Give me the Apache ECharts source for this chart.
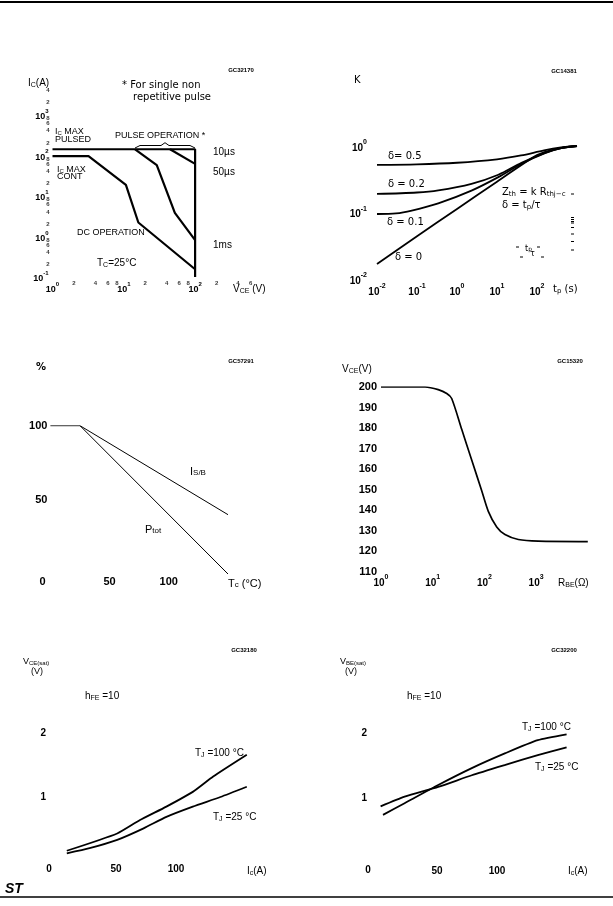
<!DOCTYPE html>
<html><head><meta charset="utf-8">
<script src="https://cdn.jsdelivr.net/npm/echarts@6/dist/echarts.min.js"></script>
<style>html,body{margin:0;padding:0;background:#fff}#c{width:613px;height:906px}</style>
</head><body><div id="c"></div><script>
// ---------- data ----------
// Chart 1: safe operating areas (Vce [V], Ic [A])
const soaPulsed = [[1,140],[100,140],[100,0.1]];
const soaDC     = [[1,95],[3.2,95],[10.7,18.5],[16,2.2],[100,0.155]];
const soa1ms    = [[14.4,140],[29,57],[52,3.8],[100,0.81]];
const soa50us   = [[44.5,140],[100,61]];
const soaXMinor = [2,4,6,8,20,40,60,80,200,400,600];
const soaYMinor = [0.2,0.4,0.6,0.8,2,4,6,8,20,40,60,80,200,400,600,800,2000,4000];
// Chart 2: thermal impedance K vs tp [s]
const kD05 = [[0.01,0.52],[0.1,0.53],[1,0.56],[10,0.63],[40,0.72],[150,0.86],[400,0.95],[1000,1.0]];
const kD02 = [[0.01,0.19],[0.1,0.2],[0.34,0.215],[2.3,0.27],[10.8,0.37],[41,0.56],[158,0.79],[400,0.93],[1000,1.0]];
const kD01 = [[0.01,0.095],[0.03,0.097],[0.074,0.107],[0.34,0.137],[2.3,0.213],[10.8,0.34],[41,0.54],[158,0.78],[400,0.93],[1000,1.0]];
const kD0  = [[0.01,0.0168],[0.1,0.044],[1,0.113],[10,0.29],[100,0.73],[300,0.9],[1000,1.0]];
// Chart 3: derating (Tc [°C], %)
const deratePtot = [[0,100],[25,100],[150,0]];
const derateIsb  = [[25,100],[150,40]];
// Chart 4: Vce vs Rbe
const vceRbe = [[1,200],[7.1,200],[12.8,198.7],[18.7,196.8],[23.3,194.4],[36.4,179.4],[56.8,164.5],[88.7,149.5],[119,139.5],[173,131.9],[250,128.2],[453,125.8],[1104,125],[10000,124.8]];
// Chart 5: Vce(sat) vs Ic
const vcesat100 = [[9,0.16],[51,0.43],[70,0.64],[92,0.85],[114,1.08],[131,1.32],[159,1.66]];
const vcesat25  = [[9,0.12],[28,0.2],[51,0.33],[73,0.51],[92,0.69],[114,0.85],[137,1.0],[159,1.16]];
// Chart 6: Vbe(sat) vs Ic
const vbesat100 = [[5,0.74],[23,0.92],[51,1.2],[79,1.46],[107,1.69],[134,1.89],[158,1.98]];
const vbesat25  = [[3,0.87],[23,1.02],[51,1.17],[79,1.35],[107,1.51],[134,1.66],[158,1.78]];

// ---------- helpers ----------
const FN = 'Liberation Sans', FW = 'DejaVu Sans';
function richAxis(size, fam, weight){
  return {
    n:{fontSize:size, lineHeight:size+4, verticalAlign:'bottom', color:'#000', fontFamily:fam, fontWeight:weight||'normal'},
    s:{fontSize:Math.round(size*0.72), lineHeight:Math.round(size*0.72), verticalAlign:'top', color:'#000', fontFamily:fam, fontWeight:weight||'normal'}
  };
}
function logFmt(hideAbove){
  return function(v){
    const e = Math.round(Math.log10(v));
    if (hideAbove !== undefined && e >= hideAbove) return '';
    return '{n|10}{s|' + e + '}';
  };
}
function richG(size, fam, weight){
  const w = weight || 'normal';
  return {
    n:{fontSize:size, lineHeight:size+3, verticalAlign:'bottom', fill:'#000', fontFamily:fam, fontWeight:w},
    b:{fontSize:Math.round(size*0.72), lineHeight:Math.round(size*0.72), verticalAlign:'bottom', fill:'#000', fontFamily:fam, fontWeight:w},
    s:{fontSize:Math.round(size*0.72), lineHeight:Math.round(size*0.72), verticalAlign:'top', fill:'#000', fontFamily:fam, fontWeight:w}
  };
}
function T(x, y, text, size, fam, align, weight, extra){
  const st = {text:text, fill:'#000', fontSize:size, fontFamily:fam||FN, fontWeight:weight||'normal',
    align:align||'left', verticalAlign:'middle', rich:richG(size, fam||FN, weight)};
  if (extra) Object.assign(st, extra);
  return {type:'text', x:x, y:y, silent:true, style:st};
}
function L(x1,y1,x2,y2,w){ return {type:'line', silent:true, shape:{x1:x1,y1:y1,x2:x2,y2:y2}, style:{stroke:'#000', lineWidth:w||1}}; }
const hidden = {axisLine:{show:false}, axisTick:{show:false}, splitLine:{show:false}, minorTick:{show:false}, minorSplitLine:{show:false}};
function ax(o){ return Object.assign({}, hidden, o); }
function line(data, xi, w, smooth){
  return {type:'line', data:data, xAxisIndex:xi, yAxisIndex:xi, showSymbol:false, symbol:'none', smooth:smooth||false,
    lineStyle:{color:'#000', width:w}, silent:true, animation:false};
}
function lead(v){ const m = Math.pow(10, Math.floor(Math.log10(v)+1e-9)); return String(Math.round(v/m)); }
const only50100 = function(v){ return (v===50||v===100)? String(v):''; };
const noZero = function(v){ return v===0?'':String(v); };

const grids = [
  {left:52.5, top:74,    width:213.9, height:203},
  {left:377,  top:146,   width:200,   height:133},
  {left:50.4, top:425.7, width:177.6, height:148.3},
  {left:381,  top:387,   width:206.8, height:185},
  {left:56,   top:733,   width:192,   height:128},
  {left:377,  top:733,   width:192,   height:130}
];

const xAxes = [
  ax({gridIndex:0, type:'log', min:1, max:1000, axisLabel:{margin:4, formatter:logFmt(3), rich:richAxis(9,FN,'bold')}}),
  ax({gridIndex:1, type:'log', min:0.01, max:1000, axisLabel:{margin:4, formatter:logFmt(3), rich:richAxis(10,FN,'bold')}}),
  ax({gridIndex:2, type:'value', min:0, max:150, interval:50, axisLabel:{margin:2, fontSize:11, fontWeight:'bold', fontFamily:FN, color:'#000', formatter:only50100}}),
  ax({gridIndex:3, type:'log', min:1, max:10000, axisLabel:{margin:2, formatter:logFmt(4), rich:richAxis(10,FN,'bold')}}),
  ax({gridIndex:4, type:'value', min:0, max:160, interval:50, axisLabel:{margin:3, fontSize:10, fontWeight:'bold', fontFamily:FN, color:'#000', formatter:only50100}}),
  ax({gridIndex:5, type:'value', min:0, max:160, interval:50, axisLabel:{margin:3, fontSize:10, fontWeight:'bold', fontFamily:FN, color:'#000', formatter:only50100}})
];
const yAxes = [
  ax({gridIndex:0, type:'log', min:0.1, max:10000, axisLabel:{margin:4, formatter:logFmt(4), rich:richAxis(9,FN,'bold')}}),
  ax({gridIndex:1, type:'log', min:0.01, max:1, axisLabel:{margin:10, formatter:logFmt(), rich:richAxis(10,FN,'bold')}}),
  ax({gridIndex:2, type:'value', min:0, max:100, interval:50, axisLabel:{margin:3, fontSize:11, fontWeight:'bold', fontFamily:FN, color:'#000', formatter:noZero}}),
  ax({gridIndex:3, type:'value', min:110, max:200, interval:10, axisLabel:{margin:4, fontSize:11, fontWeight:'bold', fontFamily:FN, color:'#000'}}),
  ax({gridIndex:4, type:'value', min:0, max:2, interval:1, axisLabel:{margin:10, fontSize:10, fontWeight:'bold', fontFamily:FN, color:'#000', formatter:noZero}}),
  ax({gridIndex:5, type:'value', min:0, max:2, interval:1, axisLabel:{margin:10, fontSize:10, fontWeight:'bold', fontFamily:FN, color:'#000', formatter:noZero}})
];

const series = [
  line(soaPulsed,0,2.2), line(soaDC,0,2.2), line(soa1ms,0,2.2), line(soa50us,0,2.2),
  {type:'scatter', data:soaXMinor.map(v=>[v,0.1]), xAxisIndex:0, yAxisIndex:0, symbolSize:1, silent:true, clip:false,
    itemStyle:{color:'rgba(0,0,0,0)'},
    label:{show:true, position:'inside', offset:[0,6], fontSize:6, fontWeight:'bold', fontFamily:FN, color:'#000',
      formatter:function(p){ return lead(p.value[0]); }}},
  {type:'scatter', data:soaYMinor.map(v=>[1,v]), xAxisIndex:0, yAxisIndex:0, symbolSize:1, silent:true, clip:false,
    itemStyle:{color:'rgba(0,0,0,0)'},
    label:{show:true, position:'inside', offset:[-3,0], align:'right', fontSize:6, fontWeight:'bold', fontFamily:FN, color:'#000',
      formatter:function(p){ return lead(p.value[1]); }}},
  line(kD05,1,1.8,0.3), line(kD02,1,1.8,0.3), line(kD01,1,1.8,0.3), line(kD0,1,1.8,0.3),
  line(deratePtot,2,1), line(derateIsb,2,1),
  line(vceRbe,3,1.7,0.25),
  line(vcesat100,4,1.8,0.2), line(vcesat25,4,1.8,0.2),
  line(vbesat100,5,1.8,0.2), line(vbesat25,5,1.8,0.2)
];

const g = [
  L(0,2,613,2,2), L(0,897,613,897,1.5),
  T(5,889,'ST',14,FN,'left','bold',{fontStyle:'italic'}),
  // chart 1
  T(241,70,'GC32170',6,FN,'center','bold'),
  T(28,82,'{n|I}{b|C}{n|(A)}',10,FN),
  T(122,85,'* For single non',10,FW),
  T(133,97,'repetitive pulse',10,FW),
  T(55,130,'{n|I}{b|C}{n| MAX}',9,FN),
  T(55,140,'PULSED',9,FN),
  T(115,136,'PULSE OPERATION *',9,FN),
  {type:'polyline', silent:true, shape:{points:[[135,148],[140,145.5],[161,145.5],[165,142.7],[169,145.5],[190,145.5],[195,148]]}, style:{stroke:'#000', lineWidth:1, fill:null}},
  T(213,152,'10µs',10,FN),
  T(213,172,'50µs',10,FN),
  T(213,245,'1ms',10,FN),
  T(57,168,'{n|I}{b|C}{n| MAX}',9,FN),
  T(57,177,'CONT',9,FN),
  T(77,233,'DC OPERATION',9,FN),
  T(97,262,'{n|T}{b|C}{n|=25°C}',10,FN),
  T(233,288,'{n|V}{b|CE}{n| (V)}',10,FN),
  // chart 2
  T(354,80,'K',10,FW),
  T(564,71,'GC14381',6,FN,'center','bold'),
  T(388,156,'δ= 0.5',10,FW),
  T(388,184,'δ = 0.2',10,FW),
  T(387,222,'δ = 0.1',10,FW),
  T(395,257,'δ = 0',10,FW),
  T(502,191,'{n|Z}{b|th}{n| = k R}{b|thj−c}',10,FW),
  T(502,204,'{n|δ = t}{b|p}{n|/τ}',10,FW),
  T(553,288,'{n|t}{b|p}{n| (s)}',10,FW),
  L(571,194,574,194), L(571,217.5,574,217.5), L(571,219.5,574,219.5), L(571,221.5,574,221.5), L(571,223,574,223),
  L(571,227.5,574,227.5), L(571,234,574,234), L(571,241.5,574,241.5), L(571,250,574,250),
  L(516,247,519,247), T(525,247,'{n|t}{b|p}',8,FW), L(537,247,540,247),
  L(520,257,523,257), T(530,254,'τ',8,FW), L(541,257,544,257),
  // chart 3
  T(36,367,'%',10,FW,'left','bold'),
  T(241,361,'GC57291',6,FN,'center','bold'),
  T(190,470,'{n|I}{b|S/B}',11,FN),
  T(145,528,'{n|P}{b|tot}',11,FN),
  T(42.5,582,'0',11,FN,'center','bold'),
  T(228,582,'{n|T}{b|c}{n| (°C)}',11,FN),
  // chart 4
  T(342,368,'{n|V}{b|CE}{n|(V)}',10,FN),
  T(570,361,'GC15320',6,FN,'center','bold'),
  T(558,582,'{n|R}{b|BE}{n|(Ω)}',10,FN),
  // chart 5
  T(23,660,'{n|V}{b|CE(sat)}',9,FN),
  T(31,672,'(V)',9,FN),
  T(244,650,'GC32180',6,FN,'center','bold'),
  T(85,695,'{n|h}{b|FE}{n| =10}',10,FN),
  T(195,752,'{n|T}{b|J}{n| =100 °C}',10,FN),
  T(213,816,'{n|T}{b|J}{n| =25 °C}',10,FN),
  T(49,869,'0',10,FN,'center','bold'),
  T(247,870,'{n|I}{b|c}{n|(A)}',10,FN),
  // chart 6
  T(340,660,'{n|V}{b|BE(sat)}',9,FN),
  T(345,672,'(V)',9,FN),
  T(564,650,'GC32200',6,FN,'center','bold'),
  T(407,695,'{n|h}{b|FE}{n| =10}',10,FN),
  T(522,726,'{n|T}{b|J}{n| =100 °C}',10,FN),
  T(535,766,'{n|T}{b|J}{n| =25 °C}',10,FN),
  T(368,870,'0',10,FN,'center','bold'),
  T(568,870,'{n|I}{b|c}{n|(A)}',10,FN)
];

const chart = echarts.init(document.getElementById('c'), null, {renderer:'canvas'});
chart.setOption({
  animation:false,
  backgroundColor:'#fff',
  grid:grids, xAxis:xAxes, yAxis:yAxes, series:series, graphic:g
});
</script></body></html>
